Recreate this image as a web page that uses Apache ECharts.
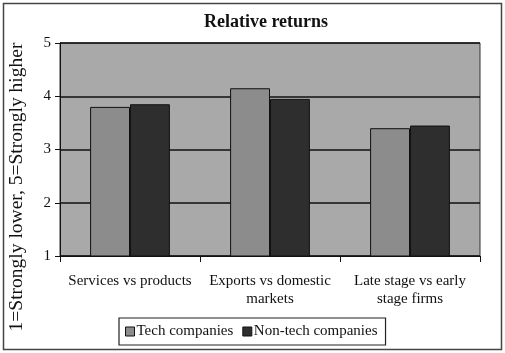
<!DOCTYPE html>
<html><head><meta charset="utf-8">
<script src="https://cdn.jsdelivr.net/npm/echarts@6/dist/echarts.min.js"></script>
<style>html,body{margin:0;padding:0;background:#fff}#c{width:505px;height:353px}</style>
</head><body><div id="c"></div>
<script>
const categories = ["Services vs products", "Exports vs domestic\nmarkets", "Late stage vs early\nstage firms"];
const techValues = [3.8, 4.15, 3.4];
const nonTechValues = [3.85, 3.95, 3.45];
const seriesNames = ["Tech companies", "Non-tech companies"];
const yTicks = [1, 2, 3, 4, 5];
const yTitle = '1=Strongly lower, 5=Strongly higher';

const FONT = "Liberation Serif";
const chart = echarts.init(document.getElementById('c'), null, {renderer: 'canvas'});
chart.setOption({
  animation: false,
  backgroundColor: '#fff',
  textStyle: {fontFamily: FONT},
  graphic: [{
    type: 'rect', shape: {x: 3.5, y: 3.5, width: 498, height: 346},
    style: {fill: 'none', stroke: '#444', lineWidth: 1.5}, z: -1
  }, {
    type: 'text', x: 17, y: 187, rotation: Math.PI / 2,
    style: {text: yTitle, font: '19.5px "Liberation Serif"', fill: '#111',
      align: 'center', verticalAlign: 'middle'}
  }],
  title: {
    text: 'Relative returns', left: 261, top: 8, textAlign: 'center',
    textStyle: {fontFamily: FONT, fontWeight: 'bold', fontSize: 18, color: '#111'}
  },
  legend: {
    data: seriesNames, left: 119, top: 318, width: 275,
    icon: 'rect',
    itemWidth: 9, itemHeight: 9, itemGap: 9,
    padding: [6, 8, 6, 6],
    itemStyle: {borderColor: '#111', borderWidth: 1},
    borderColor: '#222', borderWidth: 1.2,
    textStyle: {fontFamily: FONT, fontSize: 15, color: '#111', padding: [0, 0, 0, -3]}
  },
  grid: {
    left: 60, right: 25, top: 43, bottom: 97,
    show: true, backgroundColor: '#a9a9a9', borderColor: '#333', borderWidth: 1
  },
  xAxis: {
    type: 'category', data: categories,
    axisLine: {lineStyle: {color: '#111', width: 1}},
    axisTick: {show: true, length: 6, lineStyle: {color: '#111'}},
    axisLabel: {fontFamily: FONT, fontSize: 15, color: '#111', margin: 16, lineHeight: 18, interval: 0}
  },
  yAxis: {
    type: 'value', min: 1, max: 5, interval: 1,
    axisLine: {show: true, lineStyle: {color: '#111', width: 1}},
    axisTick: {show: true, length: 5, lineStyle: {color: '#111'}},
    axisLabel: {fontFamily: FONT, fontSize: 15, color: '#111', margin: 9,
      formatter: v => yTicks.includes(v) ? String(v) : ''},
    splitLine: {show: true, lineStyle: {color: '#111', width: 1.5}}
  },
  series: [
    {name: seriesNames[0], type: 'bar', data: techValues, barGap: '0%', barCategoryGap: '43%',
     itemStyle: {color: '#8c8c8c', borderColor: '#111', borderWidth: 1}},
    {name: seriesNames[1], type: 'bar', data: nonTechValues,
     itemStyle: {color: '#2e2e2e', borderColor: '#111', borderWidth: 1}}
  ]
});
</script></body></html>
